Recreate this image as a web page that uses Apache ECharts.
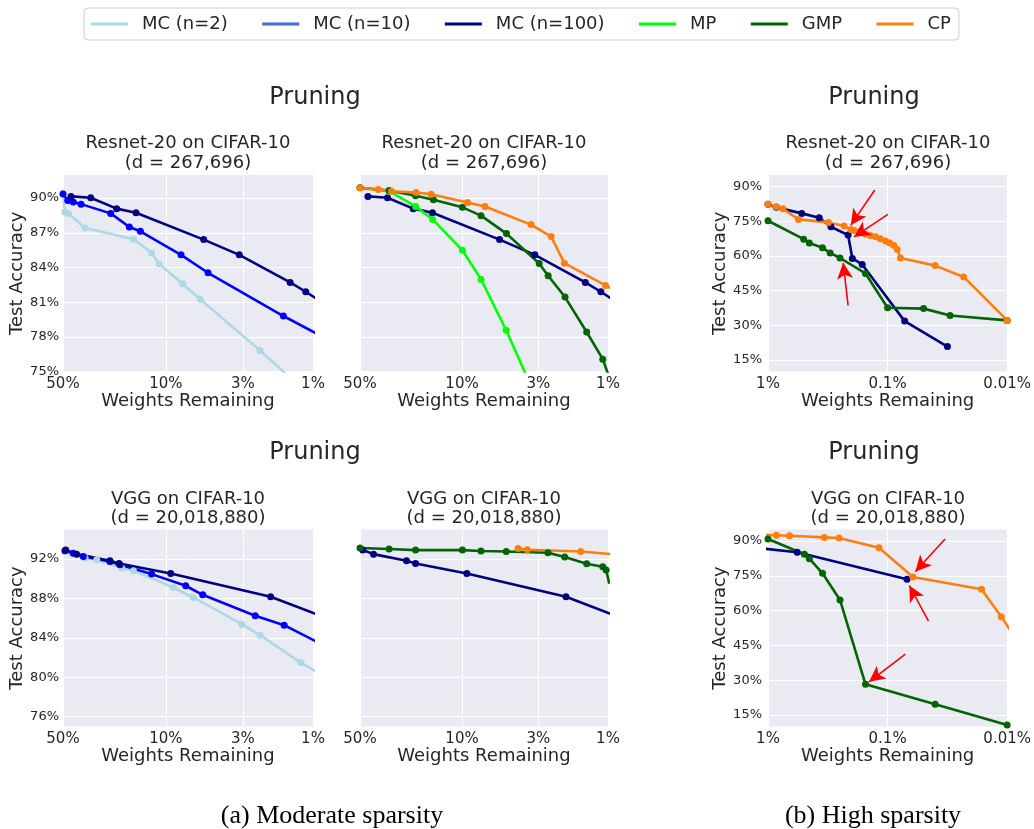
<!DOCTYPE html>
<html>
<head>
<meta charset="utf-8">
<script src="https://cdn.jsdelivr.net/npm/echarts@6/dist/echarts.min.js"></script>
<style>
  html, body { margin: 0; padding: 0; background: #ffffff; }
  #chart { width: 1034px; height: 829px; }
</style>
</head>
<body>
<div id="chart"></div>
<script>
// tick values
var modXTicks = [50, 10, 3, 1];
var highXTicks = [1, 0.1, 0.01];
var resModYTicks = [75, 78, 81, 84, 87, 90];
var vggModYTicks = [76, 80, 84, 88, 92];
var highYTicks = [15, 30, 45, 60, 75, 90];

// [weights remaining %, test accuracy %]
// Resnet-20, moderate sparsity
var resModMC2 = [[50, 90.4], [48.6, 88.8], [46, 88.66], [35.4, 87.41], [16.6, 86.44], [12.5, 85.26], [11.1, 84.31], [7.69, 82.59], [5.83, 81.24], [2.29, 76.81], [1.2, 73.6]];
var resModMC10 = [[50, 90.35], [46.4, 89.8], [42.6, 89.66], [37.7, 89.48], [23.7, 88.68], [17.7, 87.5], [14.9, 87.13], [7.89, 85.09], [5.17, 83.54], [1.59, 79.8], [0.8, 77.8]];
var resModMC100 = [[44.1, 90.15], [32.4, 90.03], [21.6, 89.09], [15.95, 88.74], [5.53, 86.41], [3.17, 85.09], [1.43, 82.71], [1.12, 81.9], [0.85, 80.9]];
var resModMP = [[50, 90.9], [31.6, 90.6], [20.8, 89.28], [15.9, 88.16], [9.94, 85.49], [7.41, 82.97], [4.98, 78.57], [3.0, 72.3]];
var resModGMP = [[50, 90.9], [31.6, 90.66], [20.8, 90.2], [15.7, 89.86], [9.94, 89.2], [7.41, 88.48], [4.96, 86.93], [2.96, 84.35], [2.57, 83.28], [1.97, 81.44], [1.4, 78.42], [1.086, 76.07], [0.95, 74]];
var resModCP = [[50, 90.9], [37.5, 90.75], [30.4, 90.6], [20.6, 90.49], [16.3, 90.34], [9.17, 89.63], [6.96, 89.28], [3.37, 87.71], [2.45, 86.67], [1.99, 84.37], [1.04, 82.45], [0.85, 81.85]];

// Resnet-20, high sparsity
var resHighMC100 = [[1.0, 82.3], [0.852, 81.0], [0.522, 78.4], [0.373, 76.5], [0.298, 72.6], [0.214, 69.0], [0.197, 58.9], [0.163, 56.3], [0.072, 31.8], [0.0316, 20.8]];
var resHighGMP = [[1.0, 75.2], [0.503, 67.25], [0.451, 65.6], [0.35, 63.5], [0.302, 61.3], [0.25, 59.1], [0.153, 52.4], [0.1, 37.6], [0.05, 37.2], [0.03, 34.2], [0.01, 32.1]];
var resHighCP = [[1.0, 82.4], [0.852, 81.25], [0.751, 80.4], [0.556, 75.8], [0.312, 74.5], [0.231, 72.9], [0.203, 71.4], [0.191, 71.0], [0.173, 70.4], [0.153, 69.4], [0.139, 68.85], [0.126, 68.25], [0.115, 67.4], [0.104, 66.5], [0.096, 65.6], [0.089, 64.6], [0.083, 62.8], [0.078, 59.1], [0.04, 55.8], [0.0231, 50.9], [0.01, 32.1]];

// VGG, moderate sparsity
var vggModMC2 = [[48.5, 92.77], [35.4, 92.1], [29.5, 91.93], [19.95, 91.09], [16.6, 90.81], [8.9, 89.11], [6.51, 88.1], [3.05, 85.39], [2.29, 84.27], [1.21, 81.49], [0.8, 79.9]];
var vggModMC10 = [[48.5, 92.84], [42.6, 92.6], [36.4, 92.26], [23.96, 91.76], [20.5, 91.42], [12.5, 90.47], [7.33, 89.29], [5.62, 88.37], [2.47, 86.24], [1.57, 85.29], [0.8, 83.06]];
var vggModMC100 = [[47.9, 92.91], [40.4, 92.5], [24, 91.83], [20.8, 91.55], [9.27, 90.54], [1.94, 88.17], [0.8, 85.99]];
var vggModGMP = [[50, 93.12], [31.6, 93.02], [20.8, 92.91], [9.94, 92.91], [7.41, 92.81], [4.98, 92.77], [2.58, 92.64], [1.98, 92.2], [1.4, 91.52], [1.086, 91.22], [1.03, 90.9], [0.98, 89.5]];
var vggModCP = [[4.13, 93.08], [3.57, 92.95], [1.54, 92.77], [0.8, 92.4]];

// VGG, high sparsity
var vggHighMC100 = [[1.94, 88.17], [0.57, 85.2], [0.0688, 73.5]];
var vggHighGMP = [[1.0, 90.9], [0.496, 84.3], [0.451, 82.4], [0.35, 76.1], [0.25, 64.6], [0.153, 28.2], [0.04, 19.6], [0.01, 10.7]];
var vggHighCP = [[1.15, 92.7], [0.852, 92.5], [0.66, 92.3], [0.338, 91.6], [0.255, 91.3], [0.118, 87.1], [0.0614, 74.5], [0.0164, 69.2], [0.0112, 57.4], [0.0085, 48]];

// red arrows: [from w, from acc, to w, to acc, curveness]
var resArrows = [[0.128, 88.5, 0.203, 73.3, 0.1], [0.0995, 78.0, 0.191, 68.2, 0.25], [0.214, 38.6, 0.235, 57.0, -0.15]];
var vggArrows = [[0.0331, 90.9, 0.0587, 76.8, 0], [0.0455, 55.5, 0.0658, 70.8, 0], [0.071, 41.2, 0.143, 29.3, 0]];

var colors = {
    'MC (n=2)': '#add8e6',
    'MC (n=10)': '#0000ff',
    'MC (n=100)': '#000080',
    'MP': '#00ff00',
    'GMP': '#006400',
    'CP': '#ff7f0e'
};
var legendColors = ['#add8e6', '#4169e1', '#000080', '#00ff00', '#006400', '#ff7f0e'];

var textColor = '#262626';
var font = 'DejaVu Sans';

var panels = [
    {left: 63, top: 175, width: 250, height: 196.5, x: [1, 50], y: [75, 92], xt: modXTicks, yt: resModYTicks, yName: true},
    {left: 360, top: 175, width: 248, height: 196.5, x: [1, 50], y: [75, 92], xt: modXTicks, yt: resModYTicks, yName: false},
    {left: 768, top: 175, width: 241, height: 196.5, x: [0.01, 1], y: [10, 95], xt: highXTicks, yt: highYTicks, yName: true},
    {left: 63, top: 529.5, width: 250, height: 197, x: [1, 50], y: [75, 95], xt: modXTicks, yt: vggModYTicks, yName: true},
    {left: 360, top: 529.5, width: 248, height: 197, x: [1, 50], y: [75, 95], xt: modXTicks, yt: vggModYTicks, yName: false},
    {left: 768, top: 529.5, width: 241, height: 197, x: [0.01, 1], y: [10, 95], xt: highXTicks, yt: highYTicks, yName: true}
];

function toLog(data) {
    return data.map(function (p) { return [Math.log10(p[0]), p[1]]; });
}

function fmtPct(v) {
    return Number(Math.pow(10, v).toPrecision(3)) + '%';
}

var grids = [], xAxes = [], yAxes = [];
panels.forEach(function (p, i) {
    grids.push({
        left: p.left, top: p.top, width: p.width, height: p.height,
        show: true, backgroundColor: '#eaeaf2', borderWidth: 0
    });
    xAxes.push({
        gridIndex: i, type: 'value', inverse: true,
        min: Math.log10(p.x[0]), max: Math.log10(p.x[1]),
        name: 'Weights Remaining', nameLocation: 'middle', nameGap: 16,
        nameTextStyle: {fontFamily: font, fontSize: 18, color: textColor},
        axisLine: {show: false},
        axisTick: {show: false, customValues: p.xt.map(Math.log10)},
        axisLabel: {
            customValues: p.xt.map(Math.log10), formatter: fmtPct, margin: 5,
            fontFamily: font, fontSize: 15, color: textColor
        },
        splitLine: {show: true, lineStyle: {color: '#ffffff', width: 1}}
    });
    yAxes.push({
        gridIndex: i, type: 'value', min: p.y[0], max: p.y[1],
        name: p.yName ? 'Test Accuracy' : '', nameLocation: 'middle', nameGap: 36,
        nameTextStyle: {fontFamily: font, fontSize: 18, color: textColor},
        axisLine: {show: false},
        axisTick: {show: false, customValues: p.yt},
        axisLabel: {
            show: p.yName, customValues: p.yt, margin: p.x[0] < 1 ? 6 : 4,
            formatter: function (v) { return v + '%'; },
            fontFamily: font, fontSize: 13, color: textColor
        },
        splitLine: {show: true, lineStyle: {color: '#ffffff', width: 1}}
    });
});

function line(name, idx, data) {
    var c = colors[name];
    return {
        type: 'line', name: name, xAxisIndex: idx, yAxisIndex: idx,
        data: toLog(data), clip: true,
        symbol: 'circle', symbolSize: 7, showSymbol: true,
        lineStyle: {color: c, width: 2.6},
        itemStyle: {color: c},
        emphasis: {disabled: true}
    };
}

function arrows(idx, list) {
    return {
        type: 'line', name: 'arrows', xAxisIndex: idx, yAxisIndex: idx, data: [],
        z: 5,
        markLine: {
            silent: true, symbol: ['none', 'arrow'], symbolSize: [12, 16],
            label: {show: false},
            lineStyle: {color: '#ff0000', width: 1.6, type: 'solid'},
            data: list.map(function (a) {
                return [
                    {coord: [Math.log10(a[0]), a[1]], lineStyle: {curveness: a[4]}},
                    {coord: [Math.log10(a[2]), a[3]]}
                ];
            })
        }
    };
}

var series = [
    line('MC (n=2)', 0, resModMC2),
    line('MC (n=10)', 0, resModMC10),
    line('MC (n=100)', 0, resModMC100),
    line('MC (n=100)', 1, resModMC100),
    line('MP', 1, resModMP),
    line('GMP', 1, resModGMP),
    line('CP', 1, resModCP),
    line('MC (n=100)', 2, resHighMC100),
    line('GMP', 2, resHighGMP),
    line('CP', 2, resHighCP),
    arrows(2, resArrows),
    line('MC (n=2)', 3, vggModMC2),
    line('MC (n=10)', 3, vggModMC10),
    line('MC (n=100)', 3, vggModMC100),
    line('MC (n=100)', 4, vggModMC100),
    line('GMP', 4, vggModGMP),
    line('CP', 4, vggModCP),
    line('MC (n=100)', 5, vggHighMC100),
    line('GMP', 5, vggHighGMP),
    line('CP', 5, vggHighCP),
    arrows(5, vggArrows)
];

var legendNames = ['MC (n=2)', 'MC (n=10)', 'MC (n=100)', 'MP', 'GMP', 'CP'];

var texts = [
    ['Pruning', 315, 98, 24], ['Pruning', 874, 98, 24],
    ['Resnet-20 on CIFAR-10', 188, 143, 18], ['(d = 267,696)', 188, 163, 18],
    ['Resnet-20 on CIFAR-10', 484, 143, 18], ['(d = 267,696)', 484, 163, 18],
    ['Resnet-20 on CIFAR-10', 888, 143, 18], ['(d = 267,696)', 888, 163, 18],
    ['Pruning', 315, 453, 24], ['Pruning', 874, 453, 24],
    ['VGG on CIFAR-10', 188, 499, 18], ['(d = 20,018,880)', 188, 518, 18],
    ['VGG on CIFAR-10', 484, 499, 18], ['(d = 20,018,880)', 484, 518, 18],
    ['VGG on CIFAR-10', 888, 499, 18], ['(d = 20,018,880)', 888, 518, 18]
];
var graphics = texts.map(function (t) {
    return {
        type: 'text', x: t[1], y: t[2], silent: true,
        style: {
            text: t[0], fill: textColor, font: t[3] + 'px "DejaVu Sans"',
            align: 'center', verticalAlign: 'middle', textAlign: 'center', textVerticalAlign: 'middle'
        }
    };
});
[['(a) Moderate sparsity', 332], ['(b) High sparsity', 873]].forEach(function (c) {
    graphics.push({
        type: 'text', x: c[1], y: 816, silent: true,
        style: {
            text: c[0], fill: '#000000', font: '26px "Liberation Serif"',
            align: 'center', verticalAlign: 'middle', textAlign: 'center', textVerticalAlign: 'middle'
        }
    });
});

var chart = echarts.init(document.getElementById('chart'), null, {renderer: 'canvas'});
chart.setOption({
    animation: false,
    backgroundColor: '#ffffff',
    legend: {
        left: 84, top: 8, orient: 'horizontal', selectedMode: false,
        padding: [7, 8, 7, 7], itemGap: 34.4, itemWidth: 37, itemHeight: 3,
        icon: 'rect',
        borderColor: '#cccccc', borderWidth: 1, borderRadius: 4,
        textStyle: {fontFamily: font, fontSize: 18, color: textColor, padding: [0, 0, 0, 9]},
        data: legendNames.map(function (n, i) {
            return {name: n, itemStyle: {color: legendColors[i]}};
        })
    },
    grid: grids,
    xAxis: xAxes,
    yAxis: yAxes,
    series: series,
    graphic: graphics
});
</script>
</body>
</html>
